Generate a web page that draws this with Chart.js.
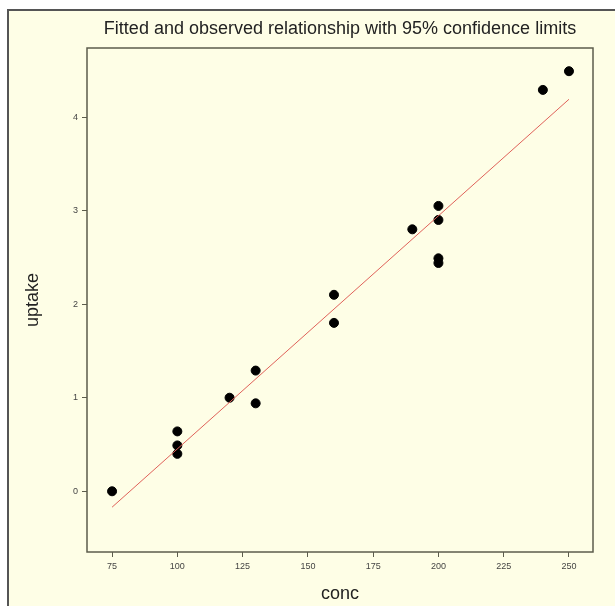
<!DOCTYPE html>
<html>
<head>
<meta charset="utf-8">
<script src="https://cdn.jsdelivr.net/npm/chart.js@4"></script>
<style>
html,body{margin:0;padding:0;background:#ffffff;}
#wrap{width:615px;height:606px;}
</style>
</head>
<body>
<div id="wrap"><canvas id="c" width="615" height="606"></canvas></div>
<script>
const conc   = [75, 100, 100, 100, 120, 130, 130, 160, 160, 190, 200, 200, 200, 200, 240, 250];
const uptake = [0.00, 0.64, 0.49, 0.40, 1.00, 1.29, 0.94, 2.10, 1.80, 2.80, 3.05, 2.90, 2.49, 2.44, 4.29, 4.49];
const fitConc = [75, 250];
const fitUptake = [-0.17, 4.19];
const xTicks = [75, 100, 125, 150, 175, 200, 225, 250];
const yTicks = [0, 1, 2, 3, 4];
const titleText = 'Fitted and observed relationship with 95% confidence limits';
const xTitle = 'conc';
const yTitle = 'uptake';

const BG = '#fefee6';
const FONT = '"Liberation Sans", Arial, sans-serif';

const decor = {
  id: 'decor',
  beforeDraw(chart) {
    const ctx = chart.ctx;
    ctx.save();
    ctx.fillStyle = '#ffffff';
    ctx.fillRect(0, 0, chart.width, chart.height);
    ctx.fillStyle = BG;
    ctx.fillRect(8, 10, chart.width - 8, chart.height - 10);
    ctx.strokeStyle = '#555555';
    ctx.lineWidth = 2;
    ctx.beginPath();
    ctx.moveTo(8, chart.height);
    ctx.lineTo(8, 10);
    ctx.lineTo(chart.width, 10);
    ctx.stroke();
    ctx.restore();
  },
  beforeDatasetsDraw(chart) {
    const a = chart.chartArea;
    const ctx = chart.ctx;
    ctx.save();
    ctx.strokeStyle = '#5c5c4c';
    ctx.lineWidth = 1.5;
    ctx.strokeRect(a.left, a.top, a.right - a.left, a.bottom - a.top);
    ctx.restore();
  },
  afterDraw(chart) {
    const a = chart.chartArea;
    const ctx = chart.ctx;
    ctx.save();
    ctx.fillStyle = '#222222';
    ctx.textAlign = 'center';
    ctx.textBaseline = 'alphabetic';
    ctx.font = '18px ' + FONT;
    ctx.fillText(titleText, (a.left + a.right) / 2, 34);
    ctx.font = '18px ' + FONT;
    ctx.fillText(xTitle, (a.left + a.right) / 2, 599);
    ctx.translate(38, (a.top + a.bottom) / 2);
    ctx.rotate(-Math.PI / 2);
    ctx.fillText(yTitle, 0, 0);
    ctx.restore();
  }
};

new Chart(document.getElementById('c'), {
  type: 'scatter',
  data: {
    datasets: [
      {
        type: 'line',
        label: 'fit',
        data: fitConc.map((x, i) => ({x: x, y: fitUptake[i]})),
        borderColor: '#e0625a',
        borderWidth: 1,
        pointRadius: 0,
        fill: false
      },
      {
        label: 'observed',
        data: conc.map((x, i) => ({x: x, y: uptake[i]})),
        backgroundColor: '#000000',
        borderColor: '#000000',
        pointRadius: 4.5,
        pointHoverRadius: 4.5
      }
    ]
  },
  options: {
    responsive: false,
    animation: false,
    events: [],
    layout: {padding: {left: 0, top: 48, right: 22, bottom: 0}},
    plugins: {legend: {display: false}, tooltip: {enabled: false}, title: {display: false}},
    scales: {
      x: {
        type: 'linear',
        min: 65.4,
        max: 259.2,
        afterBuildTicks(s) { s.ticks = xTicks.map(v => ({value: v})); },
        afterFit(s) { s.height = 54; },
        grid: {drawOnChartArea: false, drawTicks: true, tickLength: 5, tickColor: '#5c5c4c', tickWidth: 1},
        border: {display: false},
        ticks: {color: '#444444', font: {size: 9, family: FONT}, padding: 4, maxRotation: 0, autoSkip: false}
      },
      y: {
        type: 'linear',
        min: -0.649,
        max: 4.738,
        afterBuildTicks(s) { s.ticks = yTicks.map(v => ({value: v})); },
        afterFit(s) { s.width = 87; },
        grid: {drawOnChartArea: false, drawTicks: true, tickLength: 5, tickColor: '#5c5c4c', tickWidth: 1},
        border: {display: false},
        ticks: {color: '#444444', font: {size: 9, family: FONT}, padding: 4, autoSkip: false}
      }
    }
  },
  plugins: [decor]
});
</script>
</body>
</html>
